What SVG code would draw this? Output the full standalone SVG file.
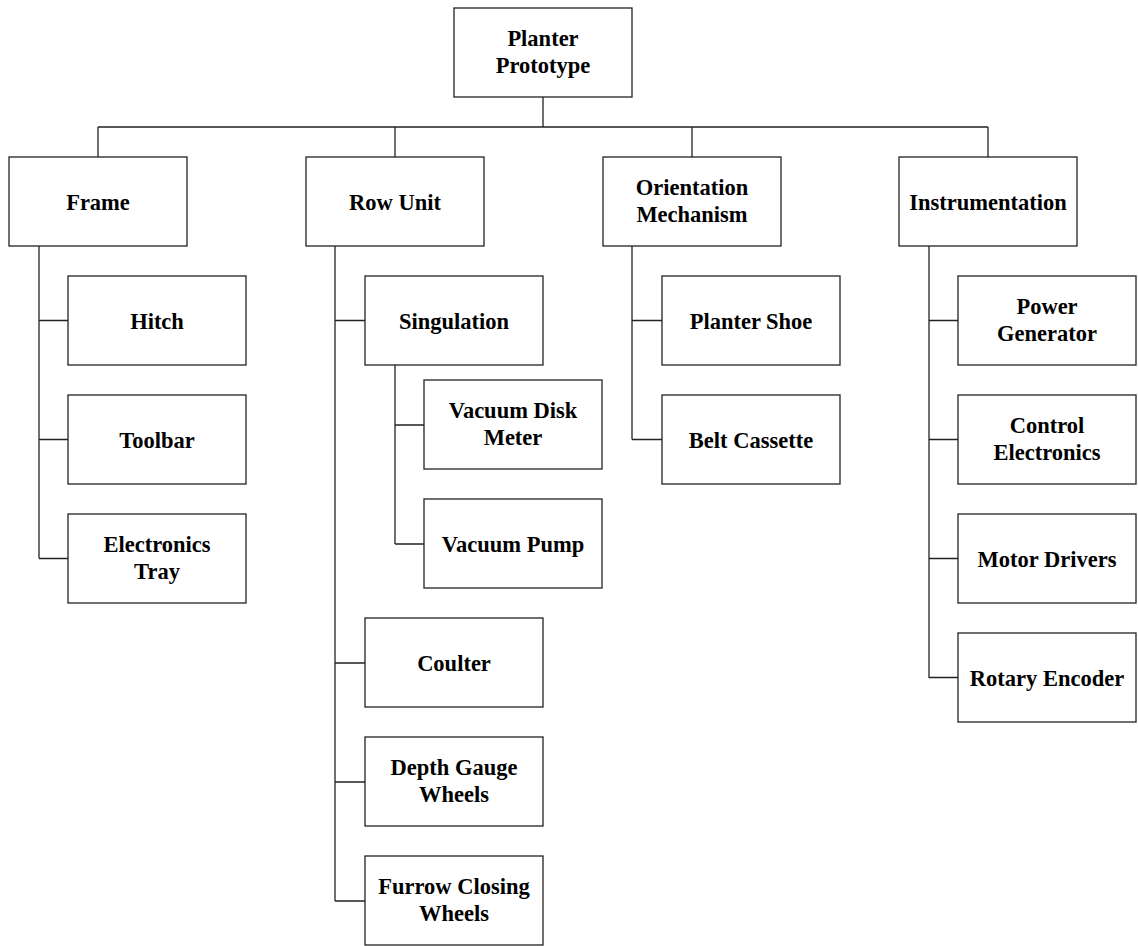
<svg xmlns="http://www.w3.org/2000/svg" width="1138" height="946" viewBox="0 0 1138 946">
<style>
.box{fill:#fff;stroke:#222;stroke-width:1.3}
.lbl{font-family:"Liberation Serif","Times New Roman",serif;font-weight:bold;font-size:22.5px;fill:#000;text-anchor:middle}
.con{fill:none;stroke:#222;stroke-width:1.3}
</style>
<rect width="1138" height="946" fill="#fff"/>
<g id="connectors" class="con">
<path d="M543,97 V127 M98,127 H988 M98,127 V157 M395,127 V157 M692,127 V157 M988,127 V157"/>
<path d="M39,246 V558.5 M39,320.5 H68 M39,439.5 H68 M39,558.5 H68"/>
<path d="M335,246 V901 M335,320.5 H365 M335,663 H365 M335,782 H365 M335,901 H365"/>
<path d="M395,365 V544 M395,425 H424 M395,544 H424"/>
<path d="M632,246 V439.5 M632,320.5 H662 M632,439.5 H662"/>
<path d="M929,246 V678 M929,320.5 H958 M929,439.5 H958 M929,558.5 H958 M929,677.5 H958"/>
</g>
<g id="planter"><rect class="box" x="454" y="8" width="178" height="89"/><text class="lbl" x="543" y="45.5">Planter</text><text class="lbl" x="543" y="72.5">Prototype</text></g>
<g id="frame"><rect class="box" x="9" y="157" width="178" height="89"/><text class="lbl" x="98" y="209.5">Frame</text></g>
<g id="rowunit"><rect class="box" x="306" y="157" width="178" height="89"/><text class="lbl" x="395" y="209.5">Row Unit</text></g>
<g id="orientation"><rect class="box" x="603" y="157" width="178" height="89"/><text class="lbl" x="692" y="194.5">Orientation</text><text class="lbl" x="692" y="221.5">Mechanism</text></g>
<g id="instrumentation"><rect class="box" x="899" y="157" width="178" height="89"/><text class="lbl" x="988" y="209.5">Instrumentation</text></g>
<g id="hitch"><rect class="box" x="68" y="276" width="178" height="89"/><text class="lbl" x="157" y="328.5">Hitch</text></g>
<g id="toolbar"><rect class="box" x="68" y="395" width="178" height="89"/><text class="lbl" x="157" y="447.5">Toolbar</text></g>
<g id="etray"><rect class="box" x="68" y="514" width="178" height="89"/><text class="lbl" x="157" y="551.5">Electronics</text><text class="lbl" x="157" y="578.5">Tray</text></g>
<g id="singulation"><rect class="box" x="365" y="276" width="178" height="89"/><text class="lbl" x="454" y="328.5">Singulation</text></g>
<g id="vdm"><rect class="box" x="424" y="380" width="178" height="89"/><text class="lbl" x="513" y="417.5">Vacuum Disk</text><text class="lbl" x="513" y="444.5">Meter</text></g>
<g id="vpump"><rect class="box" x="424" y="499" width="178" height="89"/><text class="lbl" x="513" y="551.5">Vacuum Pump</text></g>
<g id="coulter"><rect class="box" x="365" y="618" width="178" height="89"/><text class="lbl" x="454" y="670.5">Coulter</text></g>
<g id="depth"><rect class="box" x="365" y="737" width="178" height="89"/><text class="lbl" x="454" y="774.5">Depth Gauge</text><text class="lbl" x="454" y="801.5">Wheels</text></g>
<g id="furrow"><rect class="box" x="365" y="856" width="178" height="89"/><text class="lbl" x="454" y="893.5">Furrow Closing</text><text class="lbl" x="454" y="920.5">Wheels</text></g>
<g id="shoe"><rect class="box" x="662" y="276" width="178" height="89"/><text class="lbl" x="751" y="328.5">Planter Shoe</text></g>
<g id="belt"><rect class="box" x="662" y="395" width="178" height="89"/><text class="lbl" x="751" y="447.5">Belt Cassette</text></g>
<g id="power"><rect class="box" x="958" y="276" width="178" height="89"/><text class="lbl" x="1047" y="313.5">Power</text><text class="lbl" x="1047" y="340.5">Generator</text></g>
<g id="control"><rect class="box" x="958" y="395" width="178" height="89"/><text class="lbl" x="1047" y="432.5">Control</text><text class="lbl" x="1047" y="459.5">Electronics</text></g>
<g id="motor"><rect class="box" x="958" y="514" width="178" height="89"/><text class="lbl" x="1047" y="566.5">Motor Drivers</text></g>
<g id="encoder"><rect class="box" x="958" y="633" width="178" height="89"/><text class="lbl" x="1047" y="685.5">Rotary Encoder</text></g>
</svg>
